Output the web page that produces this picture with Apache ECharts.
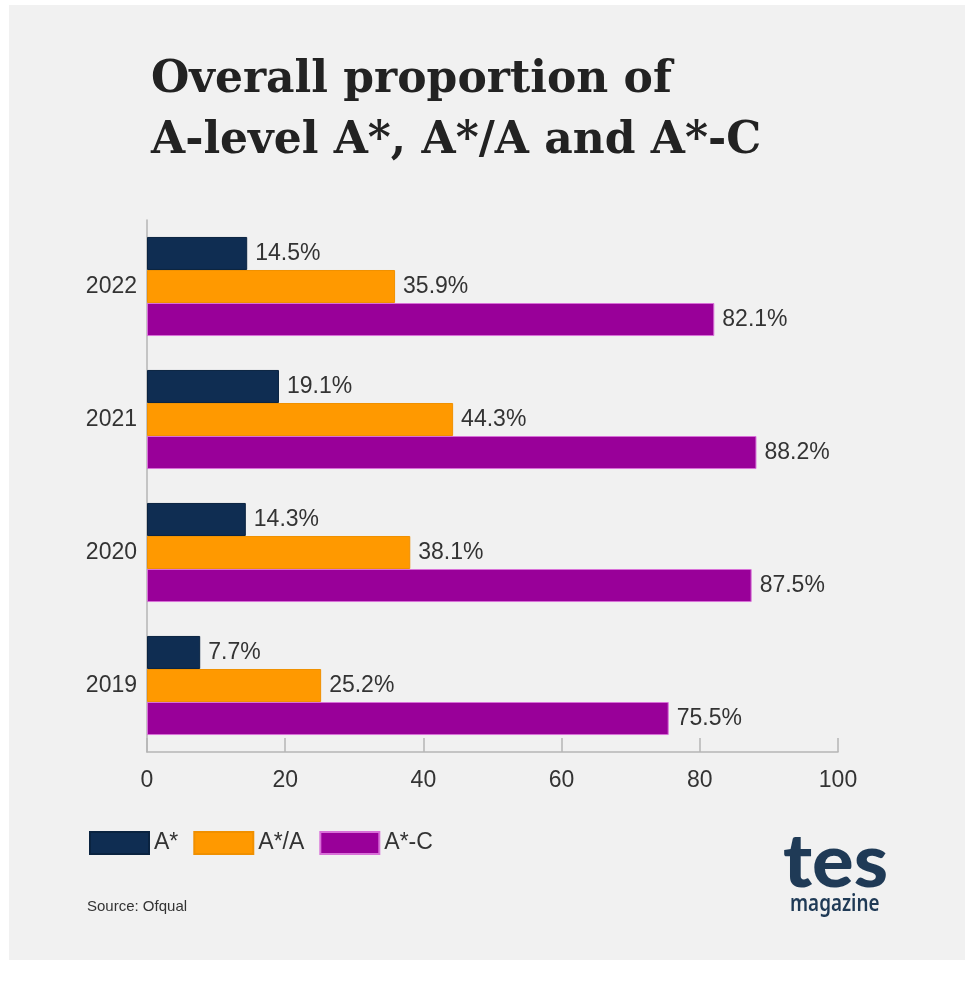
<!DOCTYPE html>
<html><head><meta charset="utf-8">
<script src="https://cdn.jsdelivr.net/npm/echarts@6/dist/echarts.min.js"></script>
<style>html,body{margin:0;padding:0;background:#fff}#c{width:974px;height:994px}</style>
</head><body><div id="c"></div>
<script>
const years = ['2022', '2021', '2020', '2019'];
const seriesNames = ['A*', 'A*/A', 'A*-C'];
const aStar = [14.5, 19.1, 14.3, 7.7];
const aStarA = [35.9, 44.3, 38.1, 25.2];
const aStarC = [82.1, 88.2, 87.5, 75.5];
const xTicks = [0, 20, 40, 60, 80, 100];
const colors = ['#0f2d52', '#ff9900', '#990099'];
const borders = ['#0a2340', '#f09000', '#d870d8'];

const chart = echarts.init(document.getElementById('c'), null, {renderer: 'canvas'});
const font = '"Liberation Sans", Arial, sans-serif';
const vals = [aStar, aStarA, aStarC];
chart.setOption({
  backgroundColor: '#ffffff',
  animation: false,
  title: {
    text: 'Overall proportion of\nA-level A*, A*/A and A*-C',
    left: 146, top: 45,
    textStyle: {fontFamily: '"DejaVu Serif", serif', fontWeight: 'bold', fontSize: 44, lineHeight: 61, color: '#222'}
  },
  graphic: [
    {type: 'rect', shape: {x: 9, y: 5, width: 956, height: 955}, style: {fill: '#f1f1f1'}, z: -10, silent: true},
    {type: 'text', x: 783, y: 826, scaleX: 1.05, style: {text: 'tes', font: '900 74px Lato, "DejaVu Sans", sans-serif', fill: '#1f3a56'}, z: 10},
    {type: 'text', x: 790, y: 893, scaleX: 0.82, style: {text: 'magazine', font: '600 23px "Noto Sans", sans-serif', fill: '#1f3a56'}, z: 10},
    {type: 'text', x: 87, y: 899, style: {text: 'Source: Ofqual', font: '15px ' + font, fill: '#333'}, z: 10}
  ],
  legend: {
    data: seriesNames, left: 89, top: 831, padding: 0, itemWidth: 59, itemHeight: 22, itemGap: 15,
    icon: 'rect',
    textStyle: {fontFamily: font, fontSize: 23, color: '#333', padding: [0, 0, 0, 0]}
  },
  grid: {left: 147, right: 136, top: 220, bottom: 242, containLabel: false},
  xAxis: {
    type: 'value', min: xTicks[0], max: xTicks[xTicks.length - 1], interval: 20,
    axisLine: {show: true, lineStyle: {color: '#b5b5b5', width: 1.5}},
    axisTick: {show: true, inside: true, length: 14, lineStyle: {color: '#b5b5b5', width: 1.5}},
    splitLine: {show: false},
    axisLabel: {fontFamily: font, fontSize: 23, color: '#333', margin: 17}
  },
  yAxis: {
    type: 'category', data: years, inverse: true,
    axisLine: {show: true, lineStyle: {color: '#b5b5b5', width: 1.5}},
    axisTick: {show: false},
    axisLabel: {fontFamily: font, fontSize: 23, color: '#333', margin: 10}
  },
  series: seriesNames.map((n, i) => ({
    name: n, type: 'bar', data: vals[i], barGap: '0%', barCategoryGap: '25.5%',
    itemStyle: {color: colors[i], borderColor: borders[i], borderWidth: 1},
    label: {show: true, position: 'right', distance: 8, formatter: p => p.value.toFixed(1) + '%',
      fontFamily: font, fontSize: 23, color: '#333'}
  }))
});
</script></body></html>
